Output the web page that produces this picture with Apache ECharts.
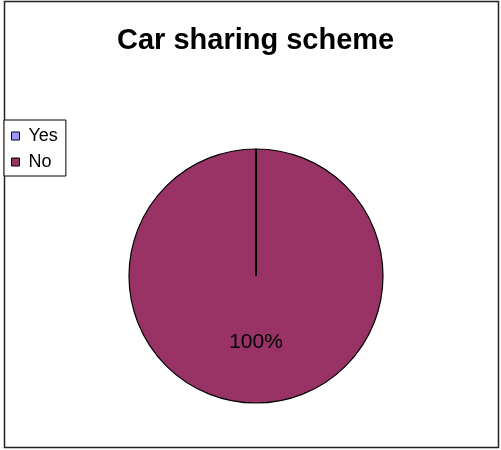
<!DOCTYPE html>
<html>
<head>
<meta charset="utf-8">
<script src="https://cdn.jsdelivr.net/npm/echarts@6/dist/echarts.min.js"></script>
<style>
  html, body { margin: 0; padding: 0; background: #fff; }
  #chart { width: 501px; height: 450px; }
</style>
</head>
<body>
<div id="chart"></div>
<script>
// Survey answers: would you use a car sharing scheme?
const categories = ['Yes', 'No'];
const responses = [0, 100];
const sliceColors = ['#9999FF', '#993366'];

const total = responses.reduce((a, b) => a + b, 0);

// Slices with no responses collapse to a single radial edge; collect the
// cumulative position of each such slice so its edge can be stroked.
const zeroEdges = [];
let running = 0;
responses.forEach((v) => {
  if (v === 0) zeroEdges.push(running);
  running += v;
});

const chart = echarts.init(document.getElementById('chart'), null, { renderer: 'canvas' });

const pieData = categories.map((name, i) => ({
  name: name,
  value: responses[i],
  itemStyle: { color: sliceColors[i] },
  label: { show: responses[i] > 0 }
}));

const PIE_CENTER = [256, 276];
const PIE_RADIUS = 127;
const FONT = 'Liberation Sans, Arial, sans-serif';

chart.setOption({
  animation: false,
  backgroundColor: '#ffffff',
  title: {
    text: 'Car sharing scheme',
    left: 117,
    top: 26,
    padding: 0,
    textStyle: {
      fontFamily: FONT,
      fontSize: 29,
      fontWeight: 'bold',
      color: '#000'
    }
  },
  legend: {
    orient: 'vertical',
    left: 4,
    top: 120,
    data: categories,
    icon: 'rect',
    itemWidth: 8,
    itemHeight: 8,
    itemGap: 8,
    padding: [7, 8, 5, 7],
    borderColor: '#000',
    borderWidth: 1,
    backgroundColor: '#fff',
    itemStyle: { borderColor: '#000', borderWidth: 1 },
    textStyle: {
      fontFamily: FONT,
      fontSize: 18,
      color: '#000',
      lineHeight: 18,
      padding: [0, 0, 0, 4]
    }
  },
  polar: { center: PIE_CENTER, radius: PIE_RADIUS },
  angleAxis: {
    type: 'value', min: 0, max: total, startAngle: 90, clockwise: true,
    show: false, splitLine: { show: false }
  },
  radiusAxis: {
    type: 'value', min: 0, max: 1, show: false, splitLine: { show: false }
  },
  graphic: [{
    type: 'rect',
    silent: true,
    z: -1,
    shape: { x: 4.5, y: 1.5, width: 494, height: 446 },
    style: { fill: 'none', stroke: '#222', lineWidth: 1.5 }
  }],
  series: [{
    type: 'pie',
    center: PIE_CENTER,
    radius: PIE_RADIUS,
    startAngle: 90,
    clockwise: true,
    avoidLabelOverlap: false,
    stillShowZeroSum: true,
    label: {
      position: 'inside',
      formatter: '{d}%',
      fontFamily: FONT,
      fontSize: 21,
      color: '#000'
    },
    labelLine: { show: false },
    itemStyle: { borderColor: '#000', borderWidth: 1.2 },
    emphasis: { disabled: true },
    data: pieData
  }].concat(zeroEdges.map((pos) => ({
    type: 'line',
    coordinateSystem: 'polar',
    symbol: 'none',
    silent: true,
    z: 5,
    lineStyle: { color: '#000', width: 2 },
    data: [[0, pos], [1, pos]]
  })))
});
</script>
</body>
</html>
